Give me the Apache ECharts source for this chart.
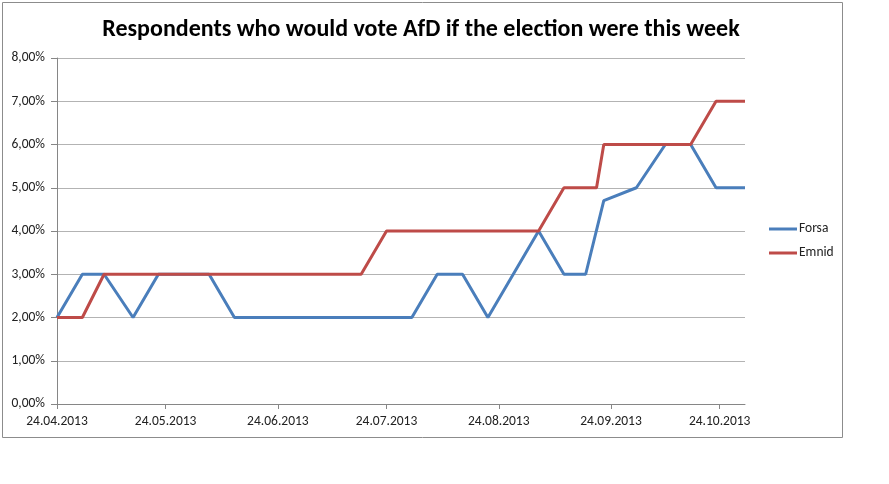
<!DOCTYPE html>
<html>
<head>
<meta charset="utf-8">
<script src="https://cdn.jsdelivr.net/npm/echarts@6/dist/echarts.min.js"></script>
<style>
  html, body { margin: 0; padding: 0; background: #fff; }
  #chart { width: 889px; height: 484px; }
</style>
</head>
<body>
<div id="chart"></div>
<script>
// poll dates and values (percent)
var forsaDates = ['24.04.2013', '01.05.2013', '07.05.2013', '15.05.2013', '22.05.2013', '05.06.2013',
    '12.06.2013', '31.07.2013', '07.08.2013', '14.08.2013', '21.08.2013', '04.09.2013', '11.09.2013',
    '17.09.2013', '22.09.2013', '01.10.2013', '09.10.2013', '16.10.2013', '23.10.2013', '31.10.2013'];
var forsaValues = [2, 3, 3, 2, 3, 3, 2, 2, 3, 3, 2, 4, 3, 3, 4.7, 5, 6, 6, 5, 5];

var emnidDates = ['24.04.2013', '01.05.2013', '07.05.2013', '17.07.2013', '24.07.2013', '04.09.2013',
    '11.09.2013', '20.09.2013', '22.09.2013', '16.10.2013', '23.10.2013', '31.10.2013'];
var emnidValues = [2, 2, 3, 3, 4, 4, 5, 5, 6, 6, 7, 7];

var tickDates = ['24.04.2013', '24.05.2013', '24.06.2013', '24.07.2013', '24.08.2013', '24.09.2013', '24.10.2013'];
var axisStart = '24.04.2013';
var axisEnd = '31.10.2013';

function toTime(s) {
    var p = s.split('.');
    return new Date(+p[2], +p[1] - 1, +p[0]).getTime();
}

function pad(n) {
    return n < 10 ? '0' + n : '' + n;
}

function fmtDate(t) {
    var d = new Date(t);
    return pad(d.getDate()) + '.' + pad(d.getMonth() + 1) + '.' + d.getFullYear();
}

function pairs(dates, values) {
    return dates.map(function (d, i) { return [toTime(d), values[i]]; });
}

var font = 'Carlito, Calibri, "Liberation Sans", sans-serif';
var chart = echarts.init(document.getElementById('chart'));
var ticks = tickDates.map(toTime);

var option = {
    backgroundColor: '#fff',
    animation: false,
    title: {
        text: 'Respondents who would vote AfD if the election were this week',
        left: 416,
        top: 13,
        textAlign: 'center',
        textStyle: { fontFamily: font, fontSize: 24, fontWeight: 'bold', color: '#000' }
    },
    legend: {
        orient: 'vertical',
        left: 764,
        top: 217,
        itemWidth: 28,
        itemHeight: 3,
        itemGap: 10,
        icon: 'rect',
        data: ['Forsa', 'Emnid'],
        textStyle: { fontFamily: font, fontSize: 13.5, color: '#222', padding: [0, 0, 0, -3] }
    },
    grid: { left: 57, right: 144, top: 58, bottom: 80, containLabel: false },
    xAxis: {
        type: 'value',
        min: toTime(axisStart),
        max: toTime(axisEnd),
        axisLine: { lineStyle: { color: '#868686', width: 1 } },
        axisTick: { show: true, length: 5, customValues: ticks, lineStyle: { color: '#868686' } },
        axisLabel: {
            customValues: ticks,
            formatter: function (v) { return fmtDate(v); },
            fontFamily: font, fontSize: 13.5, color: '#222', margin: 11,
            hideOverlap: false
        },
        splitLine: { show: false }
    },
    yAxis: {
        type: 'value',
        min: 0,
        max: 8,
        interval: 1,
        axisLine: { show: true, lineStyle: { color: '#868686', width: 1 } },
        axisTick: { show: true, length: 6, lineStyle: { color: '#868686' } },
        axisLabel: {
            formatter: function (v) { return v.toFixed(2).replace('.', ',') + '%'; },
            fontFamily: font, fontSize: 13.5, color: '#222', margin: 12
        },
        splitLine: { lineStyle: { color: '#b3b3b3', width: 1 } }
    },
    graphic: [{
        type: 'rect',
        shape: { x: 2.5, y: 2.5, width: 840, height: 435 },
        style: { fill: 'none', stroke: '#8c8c8c', lineWidth: 1 },
        silent: true
    }],
    series: [{
        name: 'Forsa',
        type: 'line',
        symbol: 'none',
        color: '#4a7ebb',
        lineStyle: { width: 3, color: '#4a7ebb' },
        data: pairs(forsaDates, forsaValues)
    }, {
        name: 'Emnid',
        type: 'line',
        symbol: 'none',
        color: '#be4b48',
        lineStyle: { width: 3, color: '#be4b48' },
        data: pairs(emnidDates, emnidValues)
    }]
};

chart.setOption(option);
</script>
</body>
</html>
